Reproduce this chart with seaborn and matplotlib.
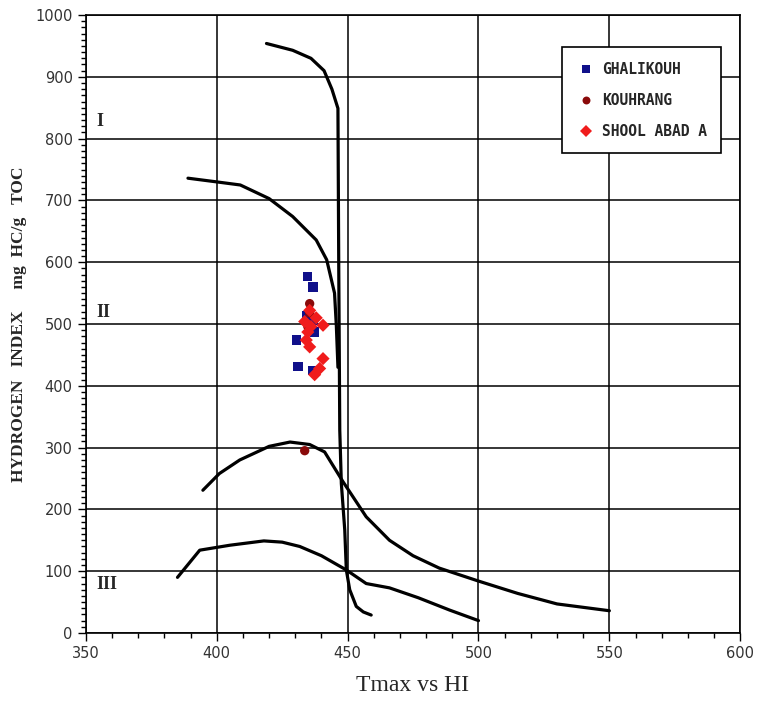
import pandas as pd
import matplotlib.pyplot as plt
from matplotlib.ticker import MultipleLocator
import seaborn as sns

# boundary curves (Tmax, HI)
type1_tmax = [419, 429, 436, 441, 444, 446.3, 446.6, 447, 447.6, 448.9, 449.5, 450.8, 453.3, 456, 459]
type1_hi = [954, 943, 930, 910, 880, 849, 600, 328, 242, 167, 102, 70, 43, 34, 29]

type2_tmax = [389, 400, 409, 420, 429, 438, 442, 445, 445.7, 446.3]
type2_hi = [736, 730, 725, 703, 674, 636, 604, 550, 496, 430]

mid_tmax = [394.7, 401, 408.8, 420, 428, 435.5, 441.2, 448.2, 457.1, 466, 475, 485, 500, 515, 530, 550]
mid_hi = [231, 258, 280, 302, 309, 305, 293, 245, 188, 150, 125, 105, 84, 64, 47, 36]

low_tmax = [385, 393.5, 405, 418, 425, 431.7, 440, 449.5, 457.1, 466, 477, 489, 500]
low_hi = [90, 134, 142, 149, 147, 140, 125, 102, 80, 73, 57, 37, 20]

# samples
ghal_tmax = [434.8, 436.8, 434.2, 437.0, 430.4, 431.0, 436.8, 437.4]
ghal_hi = [577, 560, 514, 506, 474, 431, 425, 487]
kouh_tmax = [435.5, 434.8, 435.5, 433.6]
kouh_hi = [533, 496, 518, 295]
shool_tmax = [435.5, 440.6, 434.8, 434.2, 440.6, 439.3, 437.4, 433.6, 436.0, 435.5, 438.0]
shool_hi = [522, 498, 487, 474, 444, 428, 418, 504, 496, 463, 510]

curves = pd.concat([
    pd.DataFrame({"tmax": type1_tmax, "hi": type1_hi, "curve": "I"}),
    pd.DataFrame({"tmax": type2_tmax, "hi": type2_hi, "curve": "II"}),
    pd.DataFrame({"tmax": mid_tmax, "hi": mid_hi, "curve": "mid"}),
    pd.DataFrame({"tmax": low_tmax, "hi": low_hi, "curve": "low"}),
])
samples = pd.concat([
    pd.DataFrame({"tmax": ghal_tmax, "hi": ghal_hi, "well": "GHALIKOUH"}),
    pd.DataFrame({"tmax": kouh_tmax, "hi": kouh_hi, "well": "KOUHRANG"}),
    pd.DataFrame({"tmax": shool_tmax, "hi": shool_hi, "well": "SHOOL ABAD A"}),
])

sns.set_style("white")
fig = plt.figure(figsize=(7.6, 7.07), dpi=100)
ax = fig.add_axes([0.113, 0.1047, 0.861, 0.874])

sns.lineplot(data=curves, x="tmax", y="hi", units="curve", estimator=None,
             sort=False, color="black", lw=2.3, ax=ax, legend=False)

pal = {"GHALIKOUH": "#10108a", "KOUHRANG": "#8a0a0a", "SHOOL ABAD A": "#f01c1c"}
mk = {"GHALIKOUH": "s", "KOUHRANG": "o", "SHOOL ABAD A": "D"}
sns.scatterplot(data=samples, x="tmax", y="hi", hue="well", style="well",
                palette=pal, markers=mk, s=45, linewidth=0, ax=ax, zorder=3)

ax.set_xlim(350, 600)
ax.set_ylim(0, 1000)
ax.xaxis.set_major_locator(MultipleLocator(50))
ax.xaxis.set_minor_locator(MultipleLocator(10))
ax.yaxis.set_major_locator(MultipleLocator(100))
ax.yaxis.set_minor_locator(MultipleLocator(10))
ax.grid(True, which="major", color="black", lw=1.1)
ax.set_axisbelow(True)
ax.tick_params(which="major", direction="out", length=6, width=1, color="black",
               labelsize=10.5, labelcolor="#333333", left=True, bottom=True)
ax.tick_params(which="minor", direction="out", length=3.5, width=1, color="black",
               left=True, bottom=True)
for sp in ax.spines.values():
    sp.set_color("black")
    sp.set_linewidth(1.2)

ax.set_xlabel("Tmax vs HI", family="Liberation Serif", fontsize=17, labelpad=10)
ax.set_ylabel("HYDROGEN   INDEX     mg  HC/g   TOC", family="Liberation Serif",
              fontweight="bold", fontsize=12.5, labelpad=6)

for lab, yv in [("I", 827), ("II", 519), ("III", 78)]:
    ax.text(354, yv, lab, family="Liberation Serif", fontweight="bold",
            fontsize=13, va="center", ha="left")

leg = ax.legend(loc="upper right", bbox_to_anchor=(0.971, 0.948), borderaxespad=0,
                frameon=True, fancybox=False, edgecolor="black", framealpha=1,
                prop={"family": "DejaVu Sans Mono", "weight": "bold", "size": 10.5},
                handletextpad=0.5, labelspacing=1.1, borderpad=1.0, markerscale=0.85,
                handlelength=1.2)
leg.get_frame().set_linewidth(1.2)

fig.savefig("out.png", dpi=100)
